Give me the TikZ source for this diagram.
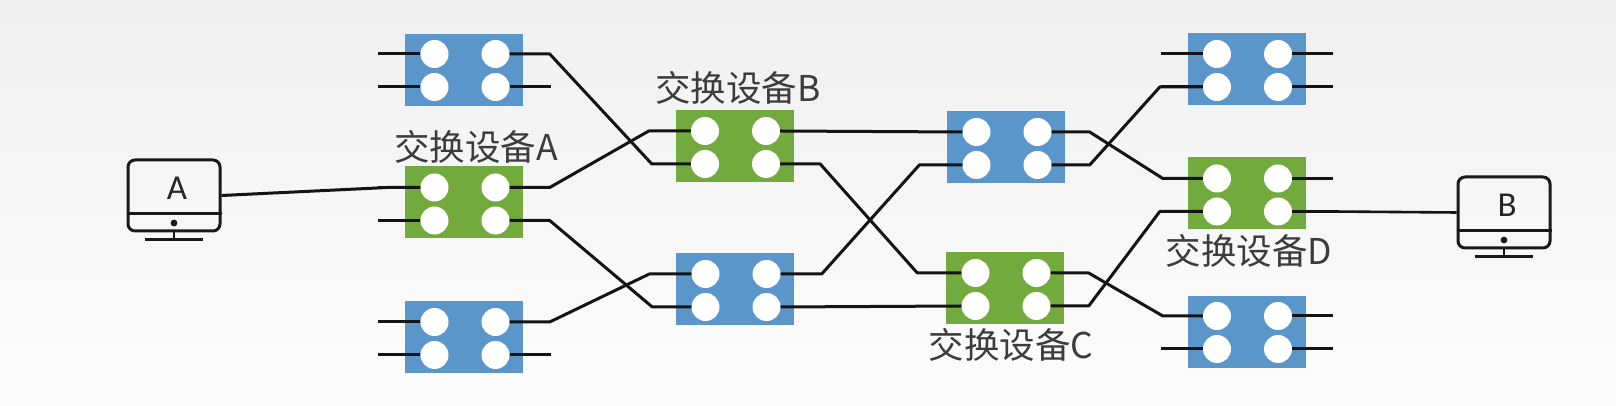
\documentclass[tikz,border=0pt]{standalone}
\usepackage{fontspec}
\setmainfont{Carlito}
\newfontfamily\cjk{Noto Sans CJK SC}[Scale=1.0]
\definecolor{swblue}{HTML}{5B96CB}
\definecolor{swgreen}{HTML}{72AA3E}
\definecolor{labelgray}{HTML}{3C3C3C}
\tikzset{
  swbody/.style={rectangle,inner sep=0pt,minimum width=118pt,minimum height=72pt,fill=#1},
  port/.style={circle,fill=white,inner sep=0pt,minimum size=28pt},
  link/.style={line width=3pt,black!92,line join=round},
  swlabel/.style={inner sep=0pt,text=labelgray,font=\cjk\fontsize{35.5}{37}\selectfont},
  screen/.style={draw=black!90,line width=3pt,rounded corners=7pt,inner sep=0pt,minimum width=92pt,minimum height=71pt},
  mondetail/.style={draw=black!90,line width=2.8pt},
  montext/.style={inner sep=0pt,text=black!85,font=\fontsize{35}{37}\selectfont}
}
\newcommand{\swdev}[5][-1]{%
  \node[swbody=#5] (#2) at (#3,#4) {};
  \node[port] (#2-L1) at ([xshift=-29.5pt,yshift=16.5pt+#1pt]#2.center) {};
  \node[port] (#2-L2) at ([xshift=-29.5pt,yshift=-16.5pt+#1pt]#2.center) {};
  \node[port] (#2-R1) at ([xshift=31.5pt,yshift=16.5pt+#1pt]#2.center) {};
  \node[port] (#2-R2) at ([xshift=31.5pt,yshift=-16.5pt+#1pt]#2.center) {};
}
\newcommand{\stubL}[2]{%
  \coordinate (#1-#2-end) at ([xshift=-42pt]#1-#2.west);
  \draw[link] (#1-#2.west) -- (#1-#2-end);
}
\newcommand{\stubR}[2]{%
  \coordinate (#1-#2-end) at ([xshift=41pt]#1-#2.east);
  \draw[link] (#1-#2.east) -- (#1-#2-end);
}
% from right port #1 out by #2, then to the point #3 left of left port #4
\newcommand{\swlink}[4]{%
  \draw[link] (#1.east) -- ++(#2,0) -- ([xshift=-#3pt]#4.west) -- (#4.west);
}
\newcommand{\monitor}[3]{%
  \node[screen] (#1) at (#2,#3) {};
  \coordinate (#1-dl) at ([yshift=-18pt]#1.west);
  \coordinate (#1-dr) at ([yshift=-18pt]#1.east);
  \draw[mondetail] (#1-dl) -- (#1-dr);
  \fill[black!90] ([yshift=-27.5pt]#1.center) circle (3.4pt);
  \draw[mondetail] (#1.south) -- ++(0,-7) coordinate (#1-foot);
  \draw[mondetail] ([xshift=-29pt]#1-foot) -- ([xshift=29pt]#1-foot);
}
\begin{document}
\begin{tikzpicture}[x=1pt,y=1pt]
\useasboundingbox (0,0) rectangle (1616,406);
\shade[top color=black!6,bottom color=black!1] (0,0) rectangle (1616,406);

% y values are 406 minus the pixel row
\swdev[0]{TL}{464}{335.5}{swblue}
\swdev[-1.5]{SA}{464}{203.5}{swgreen}
\swdev{BL}{464}{68.5}{swblue}
\swdev{SB}{734.5}{259.5}{swgreen}
\swdev{ML}{735}{116.5}{swblue}
\swdev{MU}{1006}{258.5}{swblue}
\swdev{SC}{1005}{117.5}{swgreen}
\swdev[-1.5]{TR}{1246.5}{337}{swblue}
\swdev[-1.5]{SD}{1246.5}{212.5}{swgreen}
\swdev[0]{BR}{1246.5}{73.5}{swblue}

\foreach \d in {TL,SA,BL}{\stubL{\d}{L1}\stubL{\d}{L2}}
\foreach \d in {BR,TR}{\stubL{\d}{L2}}
\stubL{TR}{L1}
\stubR{TL}{R2}
\stubR{BL}{R2}
\foreach \d in {TR,BR}{\stubR{\d}{R1}\stubR{\d}{R2}}
\stubR{SD}{R1}

\swlink{TL-R1}{40}{39}{SB-L2}
\swlink{SA-R1}{40}{42}{SB-L1}
\swlink{SA-R2}{40}{39}{ML-L2}
\swlink{BL-R1}{40}{42}{ML-L1}
\draw[link] (SB-R1.east) -- (MU-L1.west);
\swlink{SB-R2}{40}{44}{SC-L1}
\swlink{ML-R1}{41}{43}{MU-L2}
\draw[link] (ML-R2.east) -- (SC-L2.west);
\swlink{MU-R1}{38}{40}{SD-L1}
\swlink{MU-R2}{38}{43}{TR-L2}
\swlink{SC-R1}{38}{40}{BR-L1}
\swlink{SC-R2}{38}{43}{SD-L2}

\monitor{monA}{174}{210.5}
\monitor{monB}{1504}{193.5}
\node[montext] (txtA) at (177,218) {A};
\node[montext] (txtB) at (1507,201) {B};
\draw[link] (monA.east) -- ([xshift=-33pt]SA-L1.west) -- (SA-L1.west);
\draw[link,line width=2.6pt] (SD-R2.east) -- ++(40,0) -- (monB.west);

\node[swlabel] (lblA) at (476,259) {交换设备A};
\node[swlabel] (lblB) at (738,318) {交换设备B};
\node[swlabel] (lblC) at (1011,61) {交换设备C};
\node[swlabel] (lblD) at (1249,155) {交换设备D};
\end{tikzpicture}
\end{document}
